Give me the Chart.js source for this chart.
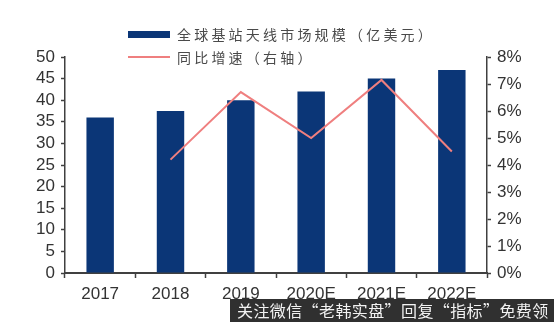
<!DOCTYPE html>
<html>
<head>
<meta charset="utf-8">
<script src="https://cdn.jsdelivr.net/npm/chart.js@4"></script>
<style>
  body { margin: 0; background: #fff; }
  #wrap { position: relative; width: 554px; height: 322px; overflow: hidden; }
  #c { position: absolute; left: 0; top: 0; }
  .leg { position: absolute; left: 128px; height: 16px; display: flex; align-items: center;
         font-family: "Noto Sans CJK SC", sans-serif; font-size: 14px; letter-spacing: 3.2px; color: #4a4a4a; }
  .leg i { display: inline-block; width: 42px; margin-right: 7px; }
  #wm { position: absolute; left: 230px; top: 299px; width: 324px; height: 23px; line-height: 23px;
        background: rgba(30,30,30,0.92); color: #f2f2f2; padding-left: 7px; box-sizing: border-box;
        font-family: "Noto Sans CJK SC", sans-serif; font-size: 16px; letter-spacing: 0.4px; white-space: nowrap; }
</style>
</head>
<body>
<div id="wrap">
  <canvas id="c" width="554" height="322"></canvas>
  <div class="leg" style="top:26px"><i style="height:7px;background:#0b3677"></i><span id="lab0"></span></div>
  <div class="leg" style="top:49px"><i style="height:2px;background:#ef7f7f"></i><span id="lab1"></span></div>
  <div id="wm">关注微信“老韩实盘”回复“指标”免费领</div>
</div>
<script>
var years = ['2017', '2018', '2019', '2020E', '2021E', '2022E'];
var marketSize = [36, 37.5, 40, 42, 45, 47];          // 亿美元
var growth = [null, 4.2, 6.7, 5.0, 7.15, 4.5];        // %
var seriesNames = ['全球基站天线市场规模（亿美元）', '同比增速（右轴）'];

document.getElementById('lab0').textContent = seriesNames[0];
document.getElementById('lab1').textContent = seriesNames[1];

var axisColor = '#404040';
var tickFont = { family: '"Liberation Sans", Arial, sans-serif', size: 17 };

new Chart(document.getElementById('c'), {
  data: {
    labels: years,
    datasets: [{
      type: 'line',
      label: seriesNames[1],
      data: growth,
      yAxisID: 'y1',
      borderColor: '#ef7f7f',
      borderWidth: 2,
      pointRadius: 0,
      tension: 0,
      order: 1
    }, {
      type: 'bar',
      label: seriesNames[0],
      data: marketSize,
      yAxisID: 'y',
      backgroundColor: '#0b3677',
      categoryPercentage: 1,
      barPercentage: 0.39,
      order: 2
    }]
  },
  options: {
    responsive: false,
    animation: false,
    layout: { padding: { top: 57, left: 0, right: 0, bottom: 0 } },
    plugins: { legend: { display: false }, tooltip: { enabled: false } },
    scales: {
      x: {
        grid: { drawOnChartArea: false, tickLength: 5, tickColor: axisColor, tickWidth: 1.5, offset: true },
        border: { color: axisColor, width: 2 },
        ticks: { font: tickFont, color: '#333', padding: 6, maxRotation: 0 },
        afterFit: function (s) { s.height = 49; }
      },
      y: {
        position: 'left',
        min: 0, max: 50,
        ticks: { stepSize: 5, autoSkip: false, font: tickFont, color: '#333', padding: 6 },
        grid: { drawOnChartArea: false, tickLength: 4, tickColor: axisColor, tickWidth: 1.5 },
        border: { color: axisColor, width: 1.5 },
        afterFit: function (s) { s.width = 65; }
      },
      y1: {
        position: 'right',
        min: 0, max: 8,
        ticks: { stepSize: 1, autoSkip: false, font: tickFont, color: '#333', padding: 6,
                 callback: function (v) { return v + '%'; } },
        grid: { drawOnChartArea: false, tickLength: 4, tickColor: axisColor, tickWidth: 1.5 },
        border: { color: axisColor, width: 1.5 },
        afterFit: function (s) { s.width = 67; }
      }
    }
  }
});
</script>
</body>
</html>
